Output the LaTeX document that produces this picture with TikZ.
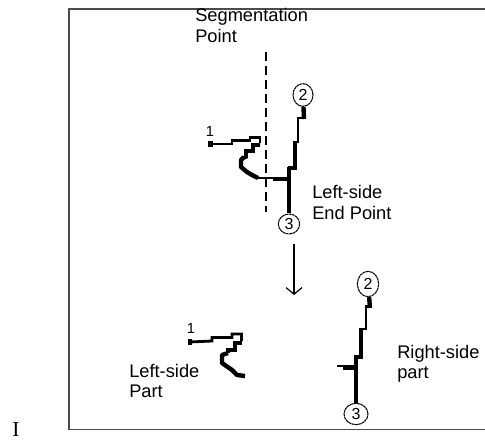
\documentclass[tikz,border=0pt]{standalone}
\usepackage{fontspec}
\setmainfont{Liberation Sans}
\newfontfamily\serifletter{Liberation Serif}
\usetikzlibrary{arrows.meta,shapes.geometric}

\tikzset{
    label text/.style={font=\fontsize{13.7}{15.6}\selectfont, align=left, anchor=north west, inner sep=0pt},
    end point/.style={ellipse, draw, line width=0.8pt, dash pattern=on 2.2pt off 0.4pt, inner sep=0pt,
                      font=\fontsize{12}{12}\selectfont},
    stroke thin/.style={line width=2.1pt, line cap=square},
    stroke mid/.style={line width=2.7pt, line cap=square},
    stroke thick/.style={line width=3.3pt, line cap=butt}
}

\begin{document}
\begin{tikzpicture}[x=0.75pt, y=-0.75pt]
    \useasboundingbox (0,0) rectangle (485,441);

    % Frame, open on the right
    \draw[line width=1.3pt, black!70] (485,9) -| (69,429.5) -- (485,429.5);

    % Labels
    \node[label text] (seglabel) at (195,8.5) {Segmentation\\Point};
    \node[label text] (leftend) at (312,185) {Left-side\\End Point};
    \node[label text] (leftlabel) at (129,363.5) {Left-side\\Part};
    \node[label text] (rightlabel) at (397,344.5) {Right-side\\part};
    \node[font=\serifletter\fontsize{16}{16}\selectfont, inner sep=0pt] (sidemark) at (16,430) {I};

    % Segmentation line
    \coordinate (segtop) at (266,52);
    \coordinate (segbot) at (266,212);
    \draw[line width=0.9pt, dash pattern=on 6.5pt off 4pt] (segtop) -- (segbot);

    % Whole character
    \node[font=\fontsize{11}{11}\selectfont, inner sep=0pt] (onetop) at (210,131) {1};
    \node[end point, minimum width=15pt, minimum height=17pt] (toptwo) at (303,95) {2};
    \node[end point, minimum width=16pt, minimum height=15pt] (topthree) at (289,224) {3};
    \fill (208,141) rectangle (213,147);
    \draw[stroke thin] (209,144) -- (232,144) -- (232,140.5) -- (250,140.5) -- (250,137.5) -- (260,137.5) -- (260,143);
    \draw[stroke mid] (260,145) -- (253,145) -- (253,151) -- (246,151) -- (246,157) -- (241,159);
    \draw[stroke thick, line join=round] (244,157) -- (241,160) -- (241,167) -- (247,172) -- (252,175) -- (258,178);
    \draw[stroke thin] (258,178) -- (273,178);
    \draw[stroke thick] (273,179) -- (287,179);
    \draw[stroke thick] (289,167) -- (topthree);
    \draw[stroke thick] (288,168) -- (295,168) -- (295,141);
    \draw[stroke thin] (296,142) -- (298,142) -- (298,118) -- (303,118);
    \draw[stroke thick] (304,119) -- (toptwo);

    % Arrow between the two stages
    \coordinate (arrowtop) at (294,244);
    \coordinate (arrowbot) at (294,295);
    \draw[line width=0.9pt, -{Straight Barb[length=5pt, width=12pt]}] (arrowtop) -- (arrowbot);

    % Left-side part
    \node[font=\fontsize{11}{11}\selectfont, inner sep=0pt] (onebot) at (191,328) {1};
    \fill (188,339) rectangle (192,345);
    \draw[stroke thin] (190,342) -- (212,341) -- (212,337.5) -- (232,337.5) -- (232,334) -- (241.5,334) -- (241.5,341);
    \draw[stroke mid] (241.5,343) -- (235,343) -- (235,350) -- (228,350) -- (228,353);
    \draw[stroke thick, line join=round] (228,353) -- (222,355) -- (222,363) -- (232,370) -- (237,375) -- (245,376);

    % Right-side part
    \node[end point, minimum width=16pt, minimum height=19pt] (bottwo) at (368,284) {2};
    \node[end point, minimum width=18pt, minimum height=16pt] (botthree) at (356,414) {3};
    \draw[stroke thick] (370,308) -- (bottwo);
    \draw[stroke thin] (370,306.5) -- (366,306.5) -- (366,329) -- (362,329);
    \draw[stroke thick] (361,328) -- (361,357);
    \draw[stroke thick] (362.5,357) -- (356,357) -- (botthree);
    \draw[stroke thin] (337,366) -- (354,366);
    \draw[stroke thick] (343,368) -- (354,368);
\end{tikzpicture}
\end{document}
